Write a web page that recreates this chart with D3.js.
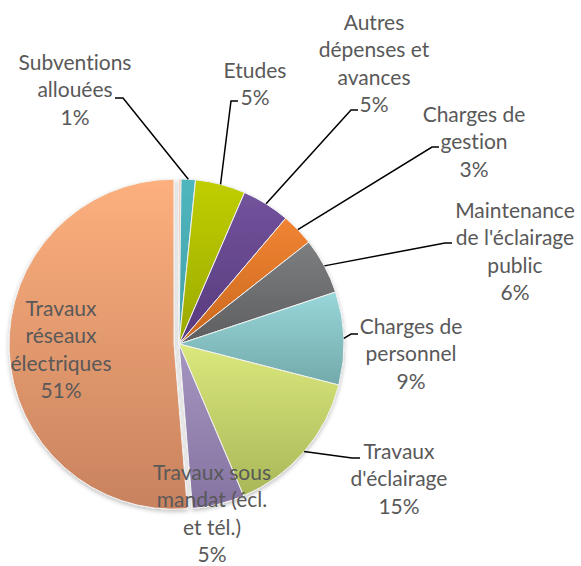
<!doctype html>
<html lang="fr">
  <head>
    <meta charset="utf-8">
    <title>Répartition des dépenses</title>
    <style>
    body { margin: 0; background: #fff; }
    .labels text {
      font-family: Lato, "Open Sans", sans-serif;
      font-size: 21px;
      font-variant-ligatures: none;
      fill: #595959;
      text-anchor: middle;
    }
    .leaders polyline {
      fill: none;
      stroke: #000;
      stroke-width: 1.5px;
    }
    </style>
    <script src="https://d3js.org/d3.v7.min.js"></script>
  </head>
  <body>
    <svg width="581" height="566"></svg>
    <script>

    // categories (first one is the tiny unlabeled sliver at 12 o'clock)
    var categories = ["", "Subventions allouées", "Etudes", "Autres dépenses et avances",
      "Charges de gestion", "Maintenance de l'éclairage public", "Charges de personnel",
      "Travaux d'éclairage", "Travaux sous mandat (écl. et tél.)", "Travaux réseaux électriques"];

    // share of spending, in %
    var values = [0.2, 1.4, 4.9, 4.7, 3.2, 5.5, 9.1, 14.6, 5.1, 51.3];

    // how each label is wrapped
    var labelLines = [
      [],
      ["Subventions", "allouées"],
      ["Etudes"],
      ["Autres", "dépenses et", "avances"],
      ["Charges de", "gestion"],
      ["Maintenance", "de l'éclairage", "public"],
      ["Charges de", "personnel"],
      ["Travaux", "d'éclairage"],
      ["Travaux sous", "mandat (écl.", "et tél.)"],
      ["Travaux", "réseaux", "électriques"]
    ];

    var colorsTop    = ["#f6b48e", "#50b6be", "#c0ce04", "#72539c", "#f18433", "#7d7e80", "#98d7da", "#dbe87c", "#a596c0", "#fdb07e"];
    var colorsBottom = ["#e29a72", "#43a0a7", "#9aa902", "#573a7d", "#c9681e", "#5d5e60", "#73a9aa", "#a9b758", "#8573a1", "#c8825e"];

    var svg = d3.select("svg"),
        cx = 179,
        cy = 344,
        radius = 165,
        explode = 5,      // the big slice is pulled out a little
        lineH = 27.3;

    // label block: centre x, first baseline y, leader elbow + stub end
    var labelLayout = [
      null,
      {x: 75,  y: 70,  elbow: [123, 98],  stub: [115, 98]},
      {x: 255, y: 78,  elbow: [231, 101], stub: [238, 101]},
      {x: 374, y: 30,  elbow: [351, 110], stub: [358, 110]},
      {x: 474, y: 122, elbow: [432, 147], stub: [439, 147]},
      {x: 515, y: 218, elbow: [445, 243], stub: [452, 243]},
      {x: 411, y: 334, elbow: [351, 334], stub: [358, 334]},
      {x: 399, y: 459, elbow: [352, 458], stub: [360, 458]},
      {x: 212, y: 480, elbow: null},
      {x: 61,  y: 316, elbow: null}
    ];

    var total = d3.sum(values);

    var pie = d3.pie().sort(null).value(function(d) { return d; });
    var arc = d3.arc().innerRadius(0).outerRadius(radius);
    var arcs = pie(values);

    var defs = svg.append("defs");

    defs.append("filter")
        .attr("id", "shadow")
        .attr("x", "-20%").attr("y", "-20%")
        .attr("width", "140%").attr("height", "140%")
      .append("feDropShadow")
        .attr("dx", 0).attr("dy", 2)
        .attr("stdDeviation", 2)
        .attr("flood-color", "#000")
        .attr("flood-opacity", 0.25);

    arcs.forEach(function(d, i) {
      var g = defs.append("linearGradient")
          .attr("id", "grad" + i)
          .attr("x1", 0).attr("y1", 0)
          .attr("x2", 0).attr("y2", 1);
      g.append("stop").attr("offset", "0%").attr("stop-color", colorsTop[i]);
      g.append("stop").attr("offset", "100%").attr("stop-color", colorsBottom[i]);
    });

    function midAngle(d) { return (d.startAngle + d.endAngle) / 2; }

    var pieG = svg.append("g")
        .attr("transform", "translate(" + cx + "," + cy + ")")
        .attr("filter", "url(#shadow)");

    pieG.selectAll("path")
        .data(arcs)
      .enter().append("path")
        .attr("d", arc)
        .attr("fill", function(d, i) { return "url(#grad" + i + ")"; })
        .attr("stroke", "#f2f2f2")
        .attr("stroke-width", 1)
        .attr("transform", function(d, i) {
          if (i !== values.length - 1) return null;
          var a = midAngle(d);
          return "translate(" + (Math.sin(a) * explode) + "," + (-Math.cos(a) * explode) + ")";
        });

    // leader lines from the slice edge to the label
    var leaders = svg.append("g").attr("class", "leaders");
    arcs.forEach(function(d, i) {
      var L = labelLayout[i];
      if (!L || !L.elbow) return;
      var a = midAngle(d);
      var p0 = [cx + Math.sin(a) * radius, cy - Math.cos(a) * radius];
      leaders.append("polyline")
          .attr("points", [p0, L.elbow, L.stub].map(function(p) { return p.join(","); }).join(" "));
    });

    // labels: name lines + percentage
    var labels = svg.append("g").attr("class", "labels");
    arcs.forEach(function(d, i) {
      var L = labelLayout[i];
      if (!L) return;
      var lines = labelLines[i].concat([Math.round(values[i] * 100 / total) + "%"]);
      var t = labels.append("text")
          .attr("x", L.x)
          .attr("y", L.y);
      lines.forEach(function(s, k) {
        t.append("tspan")
            .attr("x", L.x)
            .attr("y", L.y + k * lineH)
            .text(s);
      });
    });

    </script>
  </body>
</html>
